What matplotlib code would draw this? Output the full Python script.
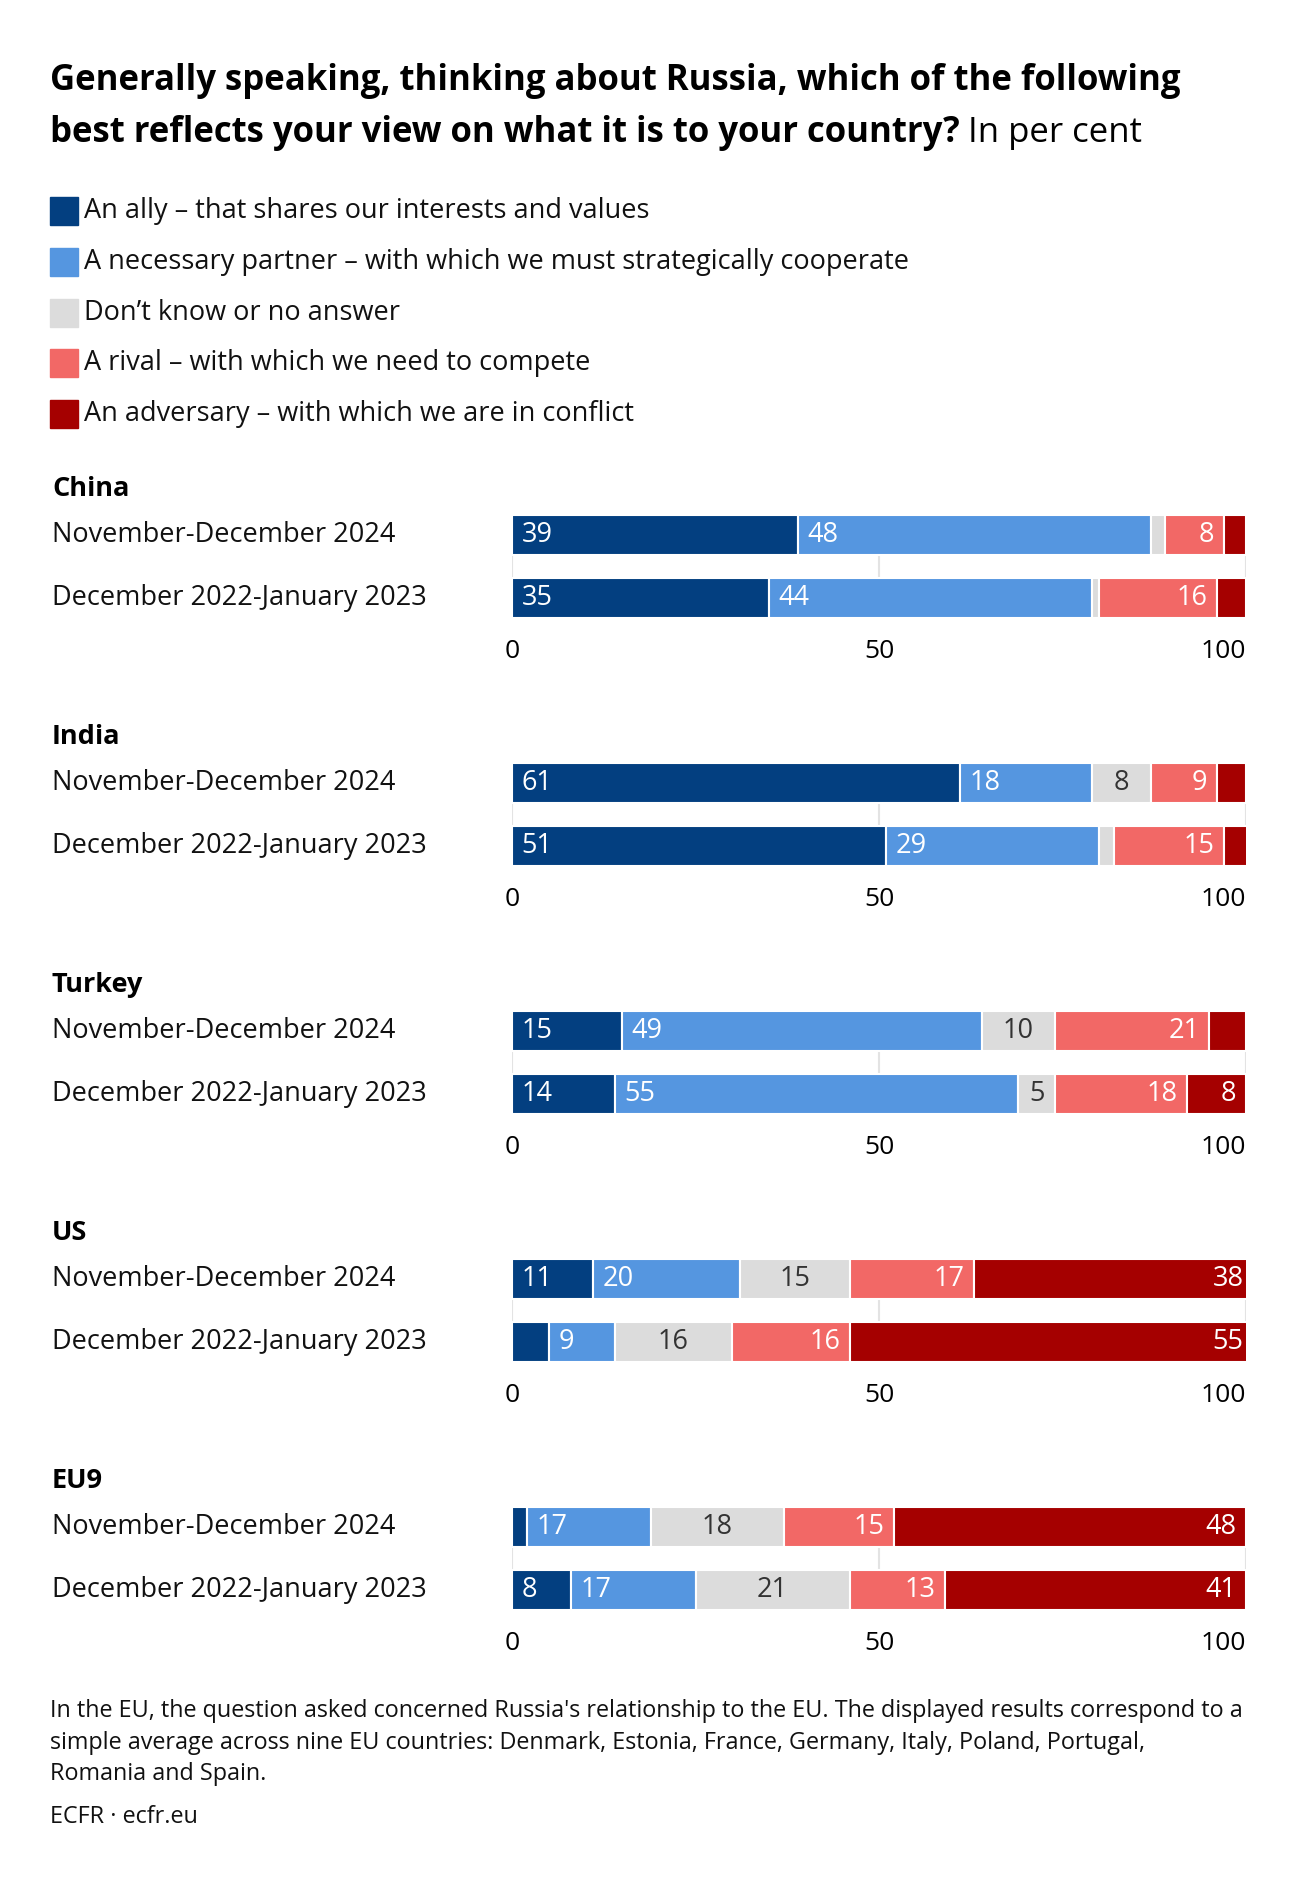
import matplotlib
matplotlib.use("Agg")
import matplotlib.pyplot as plt
import numpy as np

plt.rcParams['font.family'] = ['Open Sans', 'DejaVu Sans']

# ---- data ----
categories = ["An ally \u2013 that shares our interests and values",
              "A necessary partner \u2013 with which we must strategically cooperate",
              "Don\u2019t know or no answer",
              "A rival \u2013 with which we need to compete",
              "An adversary \u2013 with which we are in conflict"]
colors = ["#033f80", "#5596e0", "#dcdcdc", "#f26866", "#a50000"]

groups = ["China", "India", "Turkey", "US", "EU9"]
periods = ["November-December 2024", "December 2022-January 2023"]

china = [[39, 48, 2, 8, 3], [35, 44, 1, 16, 4]]
india = [[61, 18, 8, 9, 4], [51, 29, 2, 15, 4]]
turkey = [[15, 49, 10, 21, 5], [14, 55, 5, 18, 8]]
us = [[11, 20, 15, 17, 38], [5, 9, 16, 16, 55]]
eu9 = [[2, 17, 18, 15, 48], [8, 17, 21, 13, 41]]
values = [china, india, turkey, us, eu9]

footnote = ("In the EU, the question asked concerned Russia's relationship to the EU. The displayed results correspond to a\n"
            "simple average across nine EU countries: Denmark, Estonia, France, Germany, Italy, Poland, Portugal,\n"
            "Romania and Spain.")
source = "ECFR \u00b7 ecfr.eu"

W, H = 1300, 1882
fig = plt.figure(figsize=(W / 100, H / 100), dpi=100, facecolor='white')

def fy(y):
    return 1 - y / H

def fx(x):
    return x / W

# title
fig.text(fx(50), fy(81), "Generally speaking, thinking about Russia, which of the following",
         fontsize=25, fontweight='bold', va='center', ha='left', color='black')
t2 = fig.text(fx(50), fy(133), "best reflects your view on what it is to your country?",
              fontsize=25, fontweight='bold', va='center', ha='left', color='black')
fig.canvas.draw()
bb = t2.get_window_extent()
fig.text(bb.x1 / W + 0.006, fy(133), "In per cent", fontsize=25, va='center', ha='left', color='black')

# legend
leg_y = [211, 262, 313, 363, 414]
for cat, col, y in zip(categories, colors, leg_y):
    fig.patches.append(plt.Rectangle((fx(50), fy(y + 14)), fx(28), 28 / H, color=col,
                                     transform=fig.transFigure, figure=fig))
    fig.text(fx(84), fy(y), cat, fontsize=19.5, va='center', ha='left', color='#111111')

# groups
x0, x1 = 512, 1246
for gi, (name, vals) in enumerate(zip(groups, values)):
    hy = 489 + 248 * gi
    fig.text(fx(52), fy(hy), name, fontsize=19.5, fontweight='bold', va='center', ha='left')
    c1, c2 = hy + 46, hy + 109
    bh = 40
    top, bot = c1 - bh / 2, c2 + bh / 2
    ax = fig.add_axes([fx(x0), fy(bot), fx(x1 - x0), (bot - top) / H])
    ax.set_xlim(0, 100)
    half = bh / (c2 - c1) / 2
    ax.set_ylim(1 + half, -half)
    for ri, row in enumerate(vals):
        left = 0
        for ci, v in enumerate(row):
            ax.barh(ri, v, left=left, height=2 * half, color=colors[ci],
                    edgecolor='white', linewidth=1.5, zorder=3)
            show = v >= 8 or (ci == 2 and v >= 5)
            if show:
                tc = '#333333' if ci == 2 else 'white'
                if ci < 2:
                    ax.text(left + 1.3, ri, str(v), ha='left', va='center', color=tc, fontsize=19.5, zorder=4)
                elif ci == 2:
                    ax.text(left + v / 2, ri, str(v), ha='center', va='center', color=tc, fontsize=19.5, zorder=4)
                else:
                    ax.text(left + v - 1.3, ri, str(v), ha='right', va='center', color=tc, fontsize=19.5, zorder=4)
            left += v
        fig.text(fx(52), fy([c1, c2][ri]), periods[ri], fontsize=19.5, va='center', ha='left', color='#111111')
    ax.set_xticks([0, 50, 100])
    ax.set_xticklabels(["0", "50", "100"], fontsize=19)
    ax.get_xticklabels()[-1].set_ha('right')
    ax.tick_params(axis='x', length=0, pad=15)
    ax.set_yticks([])
    ax.grid(axis='x', color='#e3e3e3', linewidth=1.5, zorder=0)
    for s in ax.spines.values():
        s.set_visible(False)

# footnote
fig.text(fx(50), fy(1699), footnote, fontsize=16.8, va='top', ha='left', color='#111111', linespacing=1.42)
fig.text(fx(50), fy(1817), source, fontsize=16.8, va='center', ha='left', color='#111111')

fig.savefig("out.png", dpi=100, facecolor='white')
